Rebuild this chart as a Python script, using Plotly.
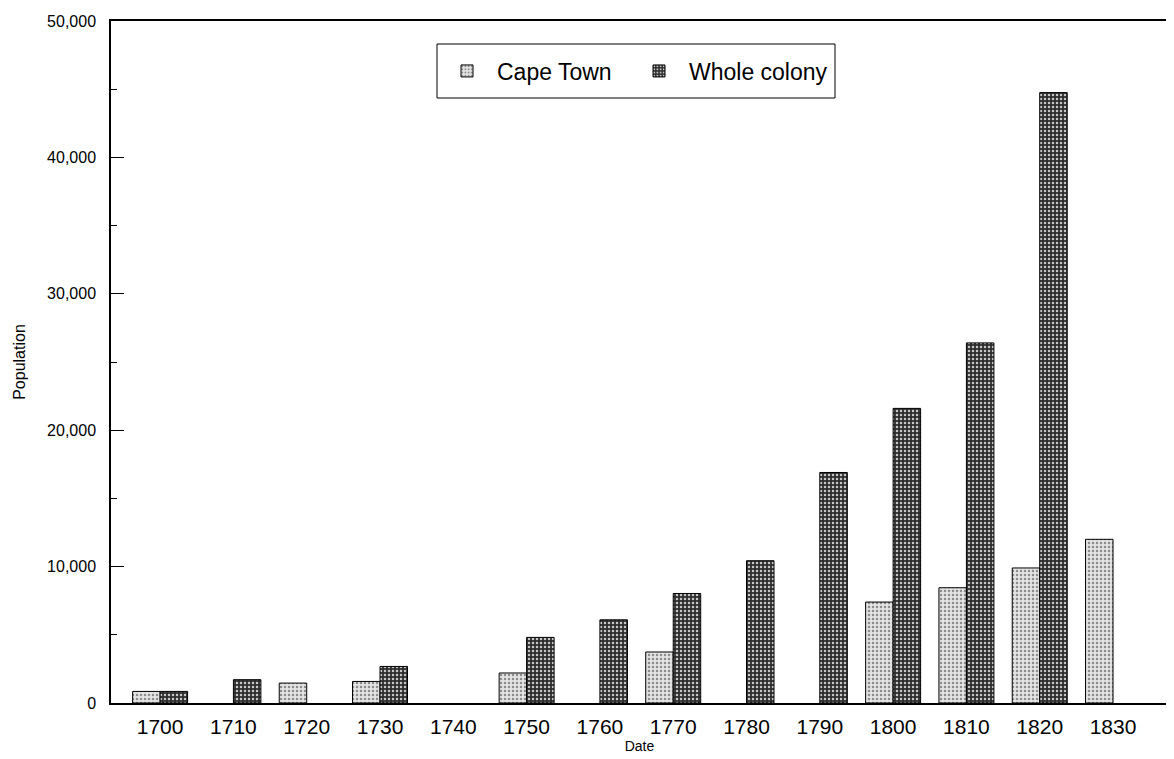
import plotly.graph_objects as go

years = [1700, 1710, 1720, 1730, 1740, 1750, 1760, 1770, 1780, 1790, 1800, 1810, 1820, 1830]
year_labels = [str(y) for y in years]
cape_town = [850, None, 1460, 1580, None, 2200, None, 3740, None, None, 7400, 8450, 9900, 12000]
whole_colony = [850, 1710, None, 2680, None, 4810, 6100, 8030, 10430, 16900, 21600, 26400, 44750, None]

FONT = "Liberation Sans, Arial, Helvetica, sans-serif"
BW = 3.75

# The page body adds an 8px offset, so the figure is 8px smaller and margins shifted.
OFF = 8
FIG_W, FIG_H = 1174 - OFF, 759 - OFF
L, R, T, B = 111 - OFF, 6, 21 - OFF, 56
PW, PH = FIG_W - L - R, FIG_H - T - B


def px_x(p):
    return (p - OFF - L) / PW


def px_y(p):
    return 1 - (p - OFF - T) / PH


fig = go.Figure()
fig.add_trace(go.Bar(
    x=years, y=cape_town, name="Cape Town",
    width=BW, offset=-BW, legendwidth=127,
    marker=dict(
        color="#d9d9d9",
        line=dict(color="black", width=1),
        pattern=dict(shape=".", fillmode="replace", bgcolor="#e4e4e4",
                     fgcolor="#8c8c8c", size=4, solidity=0.3),
    ),
))
fig.add_trace(go.Bar(
    x=years, y=whole_colony, name="Whole colony",
    width=BW, offset=0, legendwidth=150,
    marker=dict(
        color="#3a3a3a",
        line=dict(color="black", width=1),
        pattern=dict(shape=".", fillmode="replace", bgcolor="#2e2e2e",
                     fgcolor="#c8c8c8", size=4, solidity=0.3),
    ),
))

fig.add_shape(type="rect", xref="paper", yref="paper",
              x0=px_x(437), x1=px_x(835), y0=px_y(98), y1=px_y(44),
              line=dict(color="black", width=1), fillcolor="white", layer="above")

fig.update_layout(
    width=FIG_W, height=FIG_H,
    margin=dict(l=L, r=R, t=T, b=B),
    paper_bgcolor="white", plot_bgcolor="white",
    barmode="overlay",
    font=dict(family=FONT, color="black"),
    showlegend=True,
    legend=dict(
        orientation="h", x=px_x(437), xanchor="left", y=px_y(71), yanchor="middle",
        bgcolor="rgba(0,0,0,0)", borderwidth=0,
        font=dict(size=23, family=FONT), itemwidth=50,
        traceorder="normal",
    ),
    xaxis=dict(
        range=[1693.3, 1837.5], automargin=False,
        tickmode="array", tickvals=years, ticktext=year_labels,
        ticks="", showgrid=False, zeroline=False,
        showline=True, linecolor="black", linewidth=1.5, mirror=True,
        tickfont=dict(size=21, family=FONT),
        ticklabelstandoff=4,
        title=dict(text="Date", font=dict(size=14, family=FONT), standoff=0),
    ),
    yaxis=dict(
        range=[0, 50000], automargin=False, tickmode="linear", tick0=0, dtick=10000,
        tickformat=",d",
        ticks="inside", ticklen=13, tickcolor="black", tickwidth=1,
        minor=dict(dtick=5000, ticks="inside", ticklen=6, tickcolor="black", tickwidth=1),
        showgrid=False, zeroline=False,
        showline=True, linecolor="black", linewidth=1.5, mirror=True,
        tickfont=dict(size=16, family=FONT),
        ticklabelstandoff=10,
        title=dict(text="Population", font=dict(size=16, family=FONT), standoff=18),
    ),
)

fig.write_html("out.html")
